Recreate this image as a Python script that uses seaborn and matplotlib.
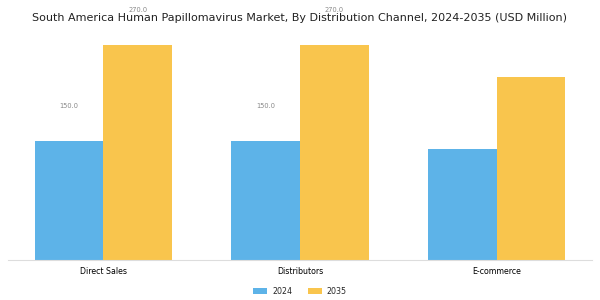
import matplotlib
matplotlib.use("Agg")
import matplotlib.pyplot as plt
import seaborn as sns
import pandas as pd

categories = ["Direct Sales", "Distributors", "E-commerce"]
years = ["2024", "2035"]
values_2024 = [150.0, 150.0, 139.0]
values_2035 = [270.0, 270.0, 230.0]
labels_2024 = ["150.0", "150.0", ""]
labels_2035 = ["270.0", "270.0", ""]
title = "South America Human Papillomavirus Market, By Distribution Channel, 2024-2035 (USD Million)"

df = pd.DataFrame({
    "channel": categories * 2,
    "year": [years[0]] * 3 + [years[1]] * 3,
    "value": values_2024 + values_2035,
})

sns.set_theme(style="white")
plt.rcParams['font.family'] = ['DejaVu Sans']

fig = plt.figure(figsize=(6, 3), dpi=100)
ax = fig.add_axes([0.0133, 0.1323, 0.9734, 0.7544])

palette = {"2024": "#5DB3E8", "2035": "#F9C54D"}
sns.barplot(data=df, x="channel", y="value", hue="year", palette=palette,
            width=0.7, saturation=1, linewidth=0, ax=ax, legend=True)

ax.set_ylim(0, 283.5)
ax.set_xlim(-0.485, 2.485)
ax.set_xlabel("")
ax.set_ylabel("")
ax.set_yticks([])
for s in ["top", "right", "left"]:
    ax.spines[s].set_visible(False)
ax.spines["bottom"].set_color("#dddddd")
ax.spines["bottom"].set_linewidth(0.8)
ax.tick_params(axis="x", labelsize=5.7, labelcolor="black", length=3, width=0.6,
               pad=2, color="#999999")

for cont, labs in zip(ax.containers, [labels_2024, labels_2035]):
    ax.bar_label(cont, labels=labs, padding=23, fontsize=4.8, color="#888888")

handles, labs = ax.get_legend_handles_labels()
ax.get_legend().remove()
fig.legend(handles, labs, loc="center", bbox_to_anchor=(0.5, 0.028), ncol=2,
           frameon=False, fontsize=5.7, handlelength=1.8, handleheight=0.8,
           handletextpad=0.6, columnspacing=2.0)

t = fig.text(0.5, 1 - 18 / 300, title, ha="center", va="center", fontsize=9, color="#222222")
fig.canvas.draw()
w = t.get_window_extent().width
t.set_fontsize(9 * 535 / w)

fig.savefig("out.png", dpi=100)
